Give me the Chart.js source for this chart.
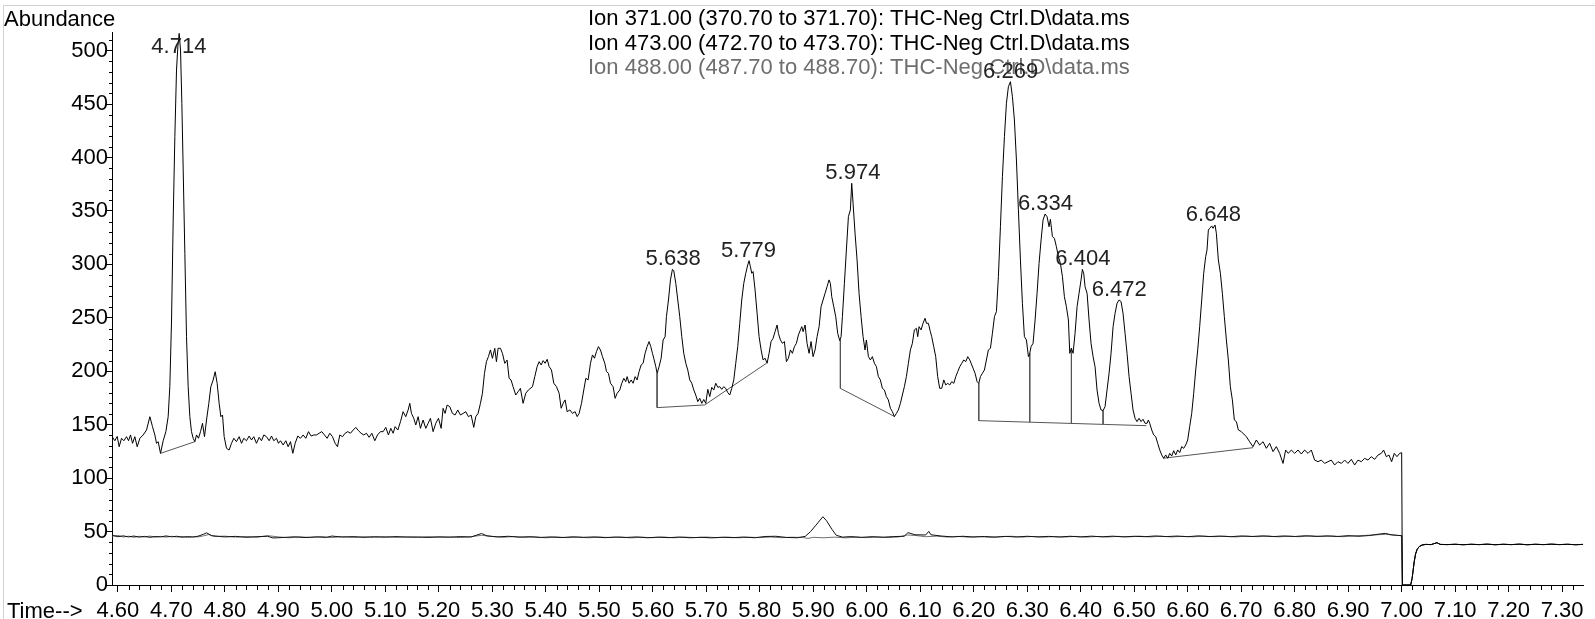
<!DOCTYPE html>
<html>
<head>
<meta charset="utf-8">
<title>Ion chromatogram</title>
<script src="https://cdn.jsdelivr.net/npm/chart.js@4.4.1/dist/chart.umd.min.js"></script>
<style>
  html, body { margin: 0; padding: 0; background: #fff; }
  canvas { display: block; }
</style>
</head>
<body>
<canvas id="chart" width="1595" height="619" style="width:1595px;height:619px"></canvas>
<script>
// 축 눈금
const xTicks = [4.60, 4.70, 4.80, 4.90, 5.00, 5.10, 5.20, 5.30, 5.40, 5.50, 5.60, 5.70, 5.80, 5.90, 6.00, 6.10, 6.20, 6.30, 6.40, 6.50, 6.60, 6.70, 6.80, 6.90, 7.00, 7.10, 7.20, 7.30];
const yTicks = [0, 50, 100, 150, 200, 250, 300, 350, 400, 450, 500];

// 범례 텍스트
const legendLines = [
    'Ion 371.00 (370.70 to 371.70): THC-Neg Ctrl.D\\data.ms',
    'Ion 473.00 (472.70 to 473.70): THC-Neg Ctrl.D\\data.ms',
    'Ion 488.00 (487.70 to 488.70): THC-Neg Ctrl.D\\data.ms'
];

// 피크 라벨 (머무름 시간, 꼭대기 높이)
const peakTimes = [4.714, 5.638, 5.779, 5.974, 6.269, 6.334, 6.404, 6.472, 6.648];
const peakApex = [516.2, 295.4, 303.5, 375.9, 471.0, 347.2, 295.4, 266.7, 336.9];

// Ion 371 (주 크로마토그램) [time, abundance]
const ion371 = [
    [4.589,139],[4.5943,135],[4.5987,139],[4.6024,129.4],[4.6068,137.3],[4.6112,135],[4.6162,138.8],[4.6199,135],[4.6236,140.4],[4.6274,132.6],
    [4.6317,138.8],[4.6361,129.4],[4.6411,137.3],[4.6473,140.4],[4.6535,145],[4.6598,157.5],[4.6647,148.2],[4.6691,140.4],[4.6722,132.6],[4.6753,134.1],
    [4.6797,123.2],[4.6847,135],[4.6897,143.5],[4.694,157.5],[4.6971,185.6],[4.7003,248],[4.7034,341.6],[4.7065,419.5],[4.7096,481.9],[4.7121,503.7],
    [4.7146,516.2],[4.7171,500.6],[4.7196,450.7],[4.7221,388.3],[4.7252,310.4],[4.7283,232.4],[4.7314,185.6],[4.7345,157.5],[4.7376,143.5],[4.7408,137.3],
    [4.7439,134.1],[4.747,140.4],[4.7507,137.3],[4.7545,143.5],[4.7582,151.3],[4.7619,138.8],[4.7657,154.4],[4.77,170],[4.7738,185.6],[4.7781,191.8],
    [4.7819,199.6],[4.7856,188.7],[4.7893,170],[4.7925,157.5],[4.7956,159.1],[4.7987,138.8],[4.8031,127.9],[4.808,126.3],[4.8124,132.6],[4.8168,137.3],
    [4.8217,134.1],[4.8267,138.8],[4.8311,132.6],[4.8354,137.3],[4.8404,135],[4.8454,139.4],[4.8498,135.7],[4.8541,138.8],[4.8591,132.6],[4.8641,138.2],
    [4.8685,135],[4.8728,140.4],[4.8778,138.8],[4.8828,135],[4.8872,139.4],[4.8915,135],[4.8965,137.3],[4.9002,132.6],[4.904,135],[4.909,131],
    [4.9139,135],[4.9183,129.4],[4.9227,134.1],[4.927,123.2],[4.9314,132.6],[4.9364,139.4],[4.9414,137.3],[4.9463,140.4],[4.9513,137.3],[4.9563,143.5],
    [4.9613,139.4],[4.9663,140.4],[4.9713,140.4],[4.9762,142],[4.9812,143.5],[4.9862,140.4],[4.9912,137.3],[4.9962,142],[5.0012,138.8],[5.0061,132.6],
    [5.0105,129.4],[5.0149,140.4],[5.0199,138.8],[5.0248,142],[5.0298,143.5],[5.0348,142],[5.0398,145],[5.0448,147.5],[5.0498,144.4],[5.0547,142],
    [5.0597,140.4],[5.0647,142],[5.0697,138.2],[5.0747,142],[5.0803,135],[5.0853,140.4],[5.0909,143.5],[5.0959,143.5],[5.1008,147.5],[5.1058,140.4],
    [5.1102,146.6],[5.1146,142],[5.1183,148.2],[5.1233,145],[5.1283,152.8],[5.1332,162.2],[5.1382,157.5],[5.1426,163.8],[5.1457,170],[5.1488,160.6],
    [5.1532,156],[5.1569,149.7],[5.1613,157.5],[5.1656,146.6],[5.1706,154.4],[5.1756,146.6],[5.18,151.3],[5.1843,156],[5.1893,143.5],[5.1943,151.3],
    [5.1993,156],[5.2043,146.6],[5.208,165.3],[5.2117,160.6],[5.2155,168.4],[5.2205,166.9],[5.2254,160.6],[5.2304,159.1],[5.2354,163.8],[5.2404,159.1],
    [5.2454,160.6],[5.2504,162.2],[5.2553,157.5],[5.2603,159.1],[5.2653,147.5],[5.2691,157.5],[5.2734,160.6],[5.2778,170],[5.2815,179.4],[5.2853,198],
    [5.289,209],[5.2927,213.7],[5.2965,220],[5.3002,212.1],[5.3046,221.5],[5.3077,209],[5.3108,221.5],[5.3152,221.5],[5.3189,216.8],[5.3233,207.4],
    [5.3276,210.5],[5.3314,193.4],[5.3351,191.8],[5.3388,185.6],[5.3438,177.8],[5.3482,180.9],[5.3525,184],[5.3575,170],[5.3625,179.4],[5.3675,182.5],
    [5.3751,185.6],[5.3794,195],[5.3838,204.4],[5.3875,209],[5.3913,205.9],[5.395,210],[5.3987,207.5],[5.4025,211.2],[5.4062,204.4],[5.4106,201.2],
    [5.4149,188.8],[5.4199,185.6],[5.4249,179.4],[5.4287,165.4],[5.4324,170],[5.4361,173.2],[5.4399,162.2],[5.4449,163.8],[5.4498,160.6],[5.4548,162.2],
    [5.4586,157.6],[5.4623,160.6],[5.4667,170],[5.471,182.5],[5.4748,193.4],[5.4791,191.9],[5.4835,207.5],[5.4872,215.3],[5.491,212.2],[5.4947,218.4],
    [5.4984,223.1],[5.5022,220],[5.5059,213.7],[5.5103,207.5],[5.5134,199.7],[5.5171,198.1],[5.5209,188.8],[5.5258,185.6],[5.5296,174.7],[5.5333,179.4],
    [5.5383,182.5],[5.542,188.8],[5.5458,193.4],[5.5495,190.3],[5.552,195],[5.5557,188.8],[5.5595,191.9],[5.5632,188.8],[5.567,195],[5.5707,191.9],
    [5.5744,199.7],[5.5782,205.9],[5.5819,207.5],[5.5856,216.8],[5.5894,223.1],[5.5931,227.8],[5.5962,223.1],[5.5994,216.8],[5.6018,212.2],[5.6056,204.4],
    [5.6081,198.1],[5.6118,204.4],[5.6156,212.2],[5.6193,229.3],[5.623,232.4],[5.6255,251.1],[5.6293,266.7],[5.633,285.5],[5.6367,295.4],[5.6392,294.2],
    [5.643,282.3],[5.6467,266.7],[5.6504,251.1],[5.6542,232.4],[5.6579,216.8],[5.6617,207.5],[5.6654,201.2],[5.6691,191.9],[5.6729,188.8],[5.6766,182.5],
    [5.6803,177.8],[5.6841,171.6],[5.6878,174.7],[5.6916,170],[5.6953,173.6],[5.699,170],[5.7028,183.1],[5.7065,176.3],[5.7102,185],[5.714,182.5],
    [5.7177,188.8],[5.7215,185],[5.7252,185.6],[5.7289,183.1],[5.7327,185.6],[5.7364,184],[5.7402,180],[5.7439,177.8],[5.7476,184],[5.7514,191.9],
    [5.7551,207.5],[5.7588,223.1],[5.7626,244.9],[5.7663,266.7],[5.7701,282.3],[5.7738,291.7],[5.7775,299.5],[5.78,303.5],[5.7825,297.9],[5.785,291.7],
    [5.7875,293.3],[5.7912,276.1],[5.795,254.3],[5.7987,232.4],[5.8025,220],[5.8062,210.6],[5.8099,212.2],[5.8137,207.5],[5.8174,216.8],[5.8211,227.8],
    [5.8249,230.9],[5.8286,237.1],[5.8324,243.3],[5.8348,235.5],[5.8386,229.3],[5.8423,226.2],[5.8461,227.8],[5.8498,209],[5.8535,212.2],[5.8573,220],
    [5.861,216.8],[5.8648,223.1],[5.8685,226.2],[5.8722,234],[5.876,238.7],[5.8785,241.8],[5.881,237.1],[5.8847,243.3],[5.8884,226.2],[5.8922,216.8],
    [5.8959,227.8],[5.8996,213.7],[5.9034,220],[5.9071,232.4],[5.9109,241.8],[5.9146,260.5],[5.9183,266.7],[5.9221,273],[5.9258,279.2],[5.9295,285.5],
    [5.932,282.3],[5.9345,269.9],[5.9383,260.5],[5.942,251.1],[5.9457,235.5],[5.9495,228.7],[5.952,232.4],[5.9545,251.1],[5.9582,282.3],[5.9619,313.5],
    [5.9657,344.7],[5.9694,351],[5.9719,375.9],[5.9744,357.2],[5.9781,329.2],[5.9819,304.2],[5.9856,273],[5.9894,251.1],[5.9931,232.4],[5.9968,220],
    [5.9993,229.3],[6.0031,213.7],[6.0068,210.6],[6.0105,213.7],[6.0143,207.5],[6.018,204.4],[6.0217,195],[6.0255,191.9],[6.0292,184],[6.033,182.5],
    [6.0367,176.3],[6.0404,173.2],[6.0442,165.4],[6.0479,162.2],[6.0517,157.6],[6.0554,160.6],[6.0591,163.8],[6.0629,170],[6.0666,177.8],[6.0703,185.6],
    [6.0741,195],[6.0778,207.5],[6.0816,220],[6.0853,226.2],[6.089,238.7],[6.0928,240.2],[6.0953,232.4],[6.0978,241.8],[6.1015,238.7],[6.1052,244.9],
    [6.109,249.6],[6.1115,244.9],[6.1152,244.9],[6.1189,237.1],[6.1214,232.4],[6.1252,223.1],[6.1289,213.7],[6.1326,195],[6.1364,184],
    [6.1402,184.1],[6.144,191.9],[6.1477,187.2],[6.1514,188.7],[6.1552,187.2],[6.1589,190.3],[6.1627,188.7],[6.1664,195],[6.1701,199.7],[6.1739,204.3],
    [6.1776,207.5],[6.1813,210.6],[6.1851,209],[6.1888,213.7],[6.1926,210.6],[6.1963,205.9],[6.1988,202.8],[6.2025,198.1],[6.2063,190.3],[6.2094,188.7],
    [6.2125,195],[6.2162,198.1],[6.22,201.2],[6.2237,210.6],[6.2274,220],[6.2312,221.5],[6.2349,235.5],[6.2387,251.1],[6.2424,255.8],[6.2461,288.6],
    [6.2499,335.3],[6.2536,382.1],[6.2574,419.6],[6.2611,450.8],[6.2648,466.3],[6.2686,471],[6.2723,457],[6.276,435.2],[6.2798,397.7],[6.2835,351],
    [6.2873,304.2],[6.291,263.6],[6.2947,232.4],[6.2985,229.3],[6.3022,213.7],[6.3047,216.8],[6.3072,223.1],[6.3109,226.2],[6.3147,248],[6.3184,273],
    [6.3221,301],[6.3259,322.9],[6.3296,341.6],[6.3334,347.2],[6.3371,344.7],[6.3408,335.3],[6.3433,342.2],[6.3471,326],[6.3508,324.4],[6.3545,316.6],
    [6.3583,307.3],[6.362,301],[6.3658,288.6],[6.3695,269.8],[6.3732,260.5],[6.377,248],[6.3795,216.8],[6.3826,221.5],[6.3857,216.8],[6.3894,235.5],
    [6.3932,260.5],[6.3969,273],[6.4006,285.4],[6.4031,295.4],[6.4056,291.7],[6.4081,279.2],[6.4119,273],[6.4156,248],[6.4193,226.2],[6.4231,213.7],
    [6.4268,204.3],[6.4305,182.5],[6.4343,170],[6.438,163.8],[6.4418,163.2],[6.4455,166.9],[6.4492,182.5],[6.453,198.1],[6.4567,216.8],[6.4605,241.8],
    [6.4642,254.2],[6.4679,263.6],[6.4717,266.7],[6.4754,265.2],[6.4791,254.2],[6.4829,235.5],[6.4866,216.8],[6.4904,195],[6.4941,179.4],[6.4978,163.8],
    [6.5016,156],[6.5053,152.9],[6.509,156],[6.5128,152.9],[6.5165,155.1],[6.5203,151.3],[6.524,151.3],[6.5265,154.4],[6.529,151.3],[6.5327,145.1],
    [6.5365,140.4],[6.5402,138.8],[6.5439,132.6],[6.5477,126.4],[6.5514,121.7],[6.5551,118.6],[6.5589,121.7],[6.5626,118.6],[6.5664,123.2],[6.5701,120.7],
    [6.5738,125.7],[6.5776,121.7],[6.5813,126.4],[6.5851,123.9],[6.5888,129.5],[6.5925,127.9],[6.5963,131],[6.6,135.7],[6.6037,148.2],[6.6075,160.6],
    [6.6112,179.4],[6.615,201.2],[6.6187,220],[6.6224,241.8],[6.6262,266.7],[6.6299,291.7],[6.6336,307.3],[6.6361,313.5],[6.6386,332.2],[6.6411,333.8],
    [6.6449,336],[6.6474,333.8],[6.6511,336.9],[6.6536,329.1],[6.6573,304.2],[6.6611,291.7],[6.6648,273],[6.6685,251.1],[6.6723,229.3],[6.676,210.6],
    [6.6797,185.6],[6.6835,173.2],[6.6872,154.4],[6.691,152.9],[6.6947,145.1],
    [6.7003,143.5],[6.7096,138.8],[6.7159,134],[6.7221,129.4],[6.7283,135.7],[6.7345,131],[6.7408,134.1],[6.747,127.9],[6.7532,132.6],[6.7595,124.8],
    [6.7657,129.5],[6.7719,123.2],[6.7782,113.8],[6.7831,126.3],[6.7881,123.2],[6.7937,126.3],[6.8,123.2],[6.8062,126.3],[6.8124,122.6],[6.8186,126.3],
    [6.8249,123.2],[6.8311,126.3],[6.8373,116.9],[6.8436,115.4],[6.8498,116.9],[6.856,113.8],[6.8623,115.4],[6.8685,116.9],[6.8747,112.3],[6.8809,115.4],
    [6.8872,113.8],[6.8934,116.9],[6.8996,113.8],[6.9059,117.6],[6.9121,112.3],[6.9183,116.9],[6.9246,115.4],[6.9308,118.5],[6.937,116.9],[6.9432,120.1],
    [6.9495,117.6],[6.9557,121.6],[6.9619,123.2],[6.9663,126.3],[6.9713,120.1],[6.9763,121.6],[6.9812,115.4],[6.9862,123.2],[6.9912,120.1],[6.9962,123.2],
    [7.0,123.8]
];

// Ion 473 (아래쪽, 5.92 부근 작은 피크)
const ion473 = [
    [4.589,46.5],[4.60,45.2],[4.61,46.0],[4.62,45.0],[4.63,45.8],[4.64,44.8],[4.65,45.5],[4.66,44.6],[4.67,45.4],[4.68,45.0],
    [4.69,45.9],[4.70,45.1],[4.71,45.6],[4.72,44.7],[4.73,45.3],[4.74,44.8],[4.75,45.7],[4.76,47.5],[4.766,48.8],[4.775,46.2],
    [4.79,45.4],[4.80,45.0],[4.82,45.5],[4.84,44.6],[4.86,45.2],[4.88,45.6],[4.89,44.0],[4.91,44.5],[4.93,45.1],[4.95,44.4],
    [4.97,45.0],[4.99,44.6],[5.00,45.8],[5.02,44.8],[5.04,45.3],[5.06,44.6],[5.08,45.2],[5.10,44.7],[5.12,45.3],[5.14,44.8],
    [5.16,45.0],[5.18,44.5],[5.20,45.1],[5.22,44.7],[5.24,45.3],[5.26,44.9],[5.28,48.2],[5.29,46.0],[5.31,45.0],[5.33,45.6],
    [5.35,44.8],[5.37,45.2],[5.39,44.5],[5.41,45.0],[5.43,44.4],[5.45,45.1],[5.47,44.6],[5.49,45.0],[5.51,44.3],[5.53,44.9],
    [5.55,44.5],[5.57,45.0],[5.59,44.2],[5.61,44.8],[5.63,44.3],[5.65,44.9],[5.67,44.2],[5.69,44.6],[5.71,44.1],[5.73,44.7],
    [5.75,44.3],[5.77,44.9],[5.79,44.2],[5.81,45.4],[5.83,45.6],[5.85,44.5],[5.87,44.2],[5.885,45.5],[5.895,50],[5.905,56],
    [5.918,63.9],[5.925,60],[5.935,52],[5.943,46.5],[5.955,44.8],[5.97,45.3],[5.99,44.6],[6.01,45.2],[6.03,44.7],[6.05,45.3],
    [6.07,45.6],[6.077,49.0],[6.09,47.0],[6.11,46.8],[6.116,50.2],[6.12,47.0],[6.14,45.8],[6.16,45.0],[6.18,45.6],[6.20,44.9],
    [6.22,45.4],[6.24,44.8],[6.26,45.5],[6.28,44.9],[6.30,45.6],[6.32,45.0],[6.34,45.5],[6.36,44.9],[6.38,45.6],[6.40,45.0],
    [6.42,45.7],[6.44,45.1],[6.46,45.7],[6.48,45.0],[6.50,45.6],[6.52,45.2],[6.54,45.9],[6.56,45.3],[6.58,45.8],[6.60,45.2],
    [6.62,46.0],[6.64,45.3],[6.66,45.8],[6.68,45.2],[6.70,45.9],[6.72,45.4],[6.74,46.0],[6.76,45.3],[6.78,45.9],[6.80,45.4],
    [6.82,46.1],[6.84,45.5],[6.86,46.0],[6.88,45.4],[6.90,46.2],[6.92,45.6],[6.94,46.3],[6.96,47.8],[6.97,48.3],[6.98,47.0],
    [6.99,46.5],[7.00,46.2]
];

// Ion 488 (아래쪽, 회색)
const ion488 = [
    [4.589,45.8],[4.60,46.4],[4.61,44.9],[4.62,45.7],[4.63,44.6],[4.64,45.6],[4.65,44.9],[4.66,45.8],[4.67,44.7],[4.68,45.5],
    [4.69,44.8],[4.70,45.6],[4.71,44.9],[4.72,45.4],[4.73,44.5],[4.74,45.3],[4.75,45.0],[4.76,46.0],[4.77,47.2],[4.78,45.5],
    [4.80,45.7],[4.82,44.8],[4.84,45.4],[4.86,44.7],[4.88,46.2],[4.90,45.0],[4.92,44.2],[4.94,45.0],[4.96,44.5],[4.98,45.2],
    [5.00,44.4],[5.02,45.4],[5.04,44.5],[5.06,45.1],[5.08,44.6],[5.10,45.3],[5.12,44.6],[5.14,45.1],[5.16,44.4],[5.18,45.2],
    [5.20,44.6],[5.22,45.0],[5.24,44.4],[5.26,45.2],[5.28,46.5],[5.30,45.4],[5.32,44.7],[5.34,45.3],[5.36,44.6],[5.38,45.0],
    [5.40,44.2],[5.42,44.9],[5.44,44.3],[5.46,44.8],[5.48,44.2],[5.50,44.9],[5.52,44.4],[5.54,44.8],[5.56,44.1],[5.58,44.7],
    [5.60,44.3],[5.62,44.9],[5.64,44.2],[5.66,44.8],[5.68,44.4],[5.70,44.9],[5.72,44.3],[5.74,44.8],[5.76,44.2],[5.78,44.7],
    [5.80,44.4],[5.82,44.9],[5.84,44.3],[5.86,44.7],[5.88,44.5],[5.89,43.6],[5.90,44.6],[5.92,44.2],[5.94,44.8],[5.96,44.1],
    [5.98,44.7],[6.00,44.3],[6.02,44.9],[6.04,44.4],[6.06,45.0],[6.075,46.8],[6.09,46.4],[6.11,45.2],[6.13,45.7],[6.15,44.9],
    [6.17,45.5],[6.19,44.8],[6.21,45.3],[6.23,44.7],[6.25,45.2],[6.27,45.6],[6.29,44.9],[6.31,45.4],[6.33,44.8],[6.35,45.3],
    [6.37,44.9],[6.39,45.5],[6.41,44.8],[6.43,45.4],[6.45,44.9],[6.47,45.5],[6.49,45.1],[6.51,45.7],[6.53,45.0],[6.55,45.6],
    [6.57,45.0],[6.59,45.5],[6.61,45.1],[6.63,45.7],[6.65,45.2],[6.67,45.6],[6.69,45.0],[6.71,45.7],[6.73,45.2],[6.75,45.8],
    [6.77,45.1],[6.79,45.6],[6.81,45.2],[6.83,45.9],[6.85,45.3],[6.87,45.8],[6.89,45.2],[6.91,45.9],[6.93,46.4],[6.95,46.9],
    [6.97,47.4],[6.99,46.6],[7.00,46.0]
];

// 7.00분 이후 (세 이온 공통)
const tail = [
    [7.0013,0],[7.0168,0],[7.0195,6],[7.0215,14],[7.0235,22],[7.026,29],[7.029,33.5],[7.033,36],[7.038,37.4],[7.045,38.0],
    [7.055,37.8],[7.066,39.6],[7.072,38.0],[7.085,37.8],[7.10,38.1],[7.115,37.7],[7.13,38.1],[7.145,37.8],[7.16,38.2],[7.175,37.7],
    [7.19,38.1],[7.205,37.8],[7.22,38.2],[7.235,37.7],[7.25,38.1],[7.265,37.8],[7.28,38.2],[7.295,37.8],[7.31,38.1],[7.325,37.7],
    [7.339,38.0]
];

// 적분 기준선 [[t1, v1], [t2, v2]]
const baselines = [
    [[4.6797,123.2],[4.7439,134.1]],
    [[5.608,198.0],[5.608,166.0]],
    [[5.608,166.0],[5.697,168.5]],
    [[5.697,168.5],[5.8124,207.5]],
    [[5.9507,229.3],[5.9507,184.0]],
    [[5.9507,184.0],[6.0523,157.6]],
    [[6.2094,188.7],[6.2094,153.8]],
    [[6.2094,153.8],[6.5228,149.1]],
    [[6.3047,216.8],[6.3047,152.4]],
    [[6.3826,221.5],[6.3826,151.2]],
    [[6.4418,163.2],[6.4418,150.3]],
    [[6.5539,118.6],[6.7221,128.5]]
];

const FONT = '"Liberation Sans", Arial, sans-serif';

function toPoints(pairs) {
    return pairs.map(p => ({ x: p[0], y: p[1] }));
}

function traceDataset(pairs, color) {
    return {
        data: toPoints(pairs),
        borderColor: color,
        borderWidth: 1,
        pointRadius: 0,
        tension: 0,
        fill: false,
        borderJoinStyle: 'round'
    };
}

const datasets = [];
datasets.push(traceDataset(ion371.concat(tail), '#000'));
datasets.push(traceDataset(ion473.concat(tail), '#111'));
datasets.push(traceDataset(ion488.concat(tail), '#707070'));
baselines.forEach(seg => {
    datasets.push(traceDataset(seg, '#555'));
});

// 텍스트, 보조 눈금, 테두리 그리기
const annotations = {
    id: 'annotations',
    beforeDraw(chart) {
        const ctx = chart.ctx;
        ctx.save();
        ctx.strokeStyle = '#d2d2d2';
        ctx.lineWidth = 1;
        ctx.strokeRect(3.5, 5.5, 1700, 800);
        ctx.restore();
    },
    afterDraw(chart) {
        const ctx = chart.ctx;
        const xs = chart.scales.x;
        const ys = chart.scales.y;
        const area = chart.chartArea;
        ctx.save();

        // 보조 눈금
        ctx.strokeStyle = '#000';
        ctx.lineWidth = 1;
        ctx.beginPath();
        for (let i = 0; i < xTicks.length; i++) {
            for (let k = 1; k < 5; k++) {
                const t = xTicks[i] + k * 0.02;
                if (t > xs.max) break;
                const px = Math.round(xs.getPixelForValue(t)) + 0.5;
                ctx.moveTo(px, area.bottom);
                ctx.lineTo(px, area.bottom + 5);
            }
        }
        for (let i = 0; i < yTicks.length; i++) {
            for (let k = 1; k < 5; k++) {
                const v = yTicks[i] + k * 10;
                if (v > ys.max) break;
                const py = Math.round(ys.getPixelForValue(v)) + 0.5;
                ctx.moveTo(area.left - 3, py);
                ctx.lineTo(area.left, py);
            }
        }
        ctx.stroke();

        // 축 제목
        ctx.fillStyle = '#000';
        ctx.font = '22px ' + FONT;
        ctx.textAlign = 'left';
        ctx.textBaseline = 'alphabetic';
        ctx.fillText('Abundance', 4, 26);
        ctx.fillText('Time-->', 7, 618);

        // 범례
        const legendColors = ['#000', '#000', '#6e6e6e'];
        const legendBase = [25, 50, 74];
        legendLines.forEach((line, i) => {
            ctx.fillStyle = legendColors[i];
            ctx.fillText(line, 588, legendBase[i]);
        });

        // 피크 라벨
        ctx.font = '22px ' + FONT;
        ctx.fillStyle = '#222';
        ctx.textAlign = 'center';
        peakTimes.forEach((t, i) => {
            const px = xs.getPixelForValue(t);
            const py = Math.max(ys.getPixelForValue(peakApex[i]) - 4, 52.5);
            ctx.fillText(t.toFixed(3), px, py);
        });
        ctx.restore();
    }
};

new Chart(document.getElementById('chart'), {
    type: 'line',
    data: { datasets: datasets },
    options: {
        responsive: false,
        animation: false,
        devicePixelRatio: 1,
        parsing: false,
        normalized: true,
        events: [],
        layout: { padding: { left: 0, top: 32, right: 12, bottom: 0 } },
        plugins: {
            legend: { display: false },
            tooltip: { enabled: false }
        },
        scales: {
            x: {
                type: 'linear',
                min: 4.589,
                max: 7.339,
                afterBuildTicks: s => { s.ticks = xTicks.map(v => ({ value: v })); },
                afterFit: s => { s.height = 34; },
                ticks: {
                    autoSkip: false,
                    maxRotation: 0,
                    padding: 6,
                    color: '#000',
                    font: { family: FONT, size: 22 },
                    callback: v => Number(v).toFixed(2)
                },
                grid: { drawOnChartArea: false, drawTicks: true, tickLength: 7, color: '#000', lineWidth: 1 },
                border: { display: true, color: '#000', width: 1 }
            },
            y: {
                type: 'linear',
                min: 0,
                max: 517.5,
                afterBuildTicks: s => { s.ticks = yTicks.map(v => ({ value: v })); },
                afterFit: s => { s.width = 112; },
                ticks: {
                    autoSkip: false,
                    padding: -2,
                    color: '#000',
                    font: { family: FONT, size: 22 },
                    callback: v => String(v)
                },
                grid: { drawOnChartArea: false, drawTicks: true, tickLength: 6, color: '#000', lineWidth: 1 },
                border: { display: true, color: '#000', width: 1 }
            }
        }
    },
    plugins: [annotations]
});
</script>
</body>
</html>
